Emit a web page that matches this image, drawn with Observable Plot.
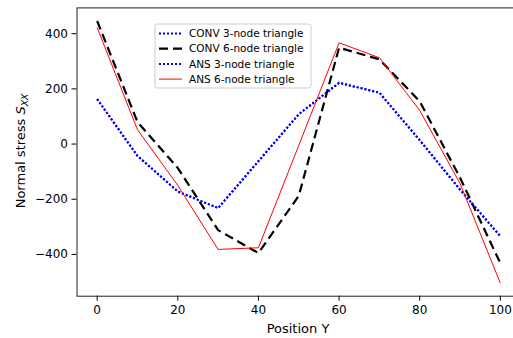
<!DOCTYPE html>
<html><head><meta charset="utf-8">
<script src="https://cdn.jsdelivr.net/npm/d3@7"></script>
<script src="https://cdn.jsdelivr.net/npm/@observablehq/plot@0.6"></script>
<style>html,body{margin:0;padding:0;overflow:hidden;background:#fff;width:513px;height:338px}
#chart svg{max-width:none !important;}</style>
</head><body><div id="chart"></div><script>
const positions = [0, 10, 20, 30, 40, 50, 60, 70, 80, 90, 100];
const conv3 = [163, -43, -172, -232, -62, 108, 222, 186, 14, -165, -334];
const conv6 = [446, 80, -87, -312, -395, -188, 349, 307, 155, -122, -432];
const ans3  = [163, -43, -172, -232, -62, 108, 222, 186, 14, -165, -334];
const ans6  = [422, 52, -150, -382, -376, -5, 367, 313, 122, -143, -504];
const seriesNames = ["CONV 3-node triangle", "CONV 6-node triangle", "ANS 3-node triangle", "ANS 6-node triangle"];
const xTicks = [0, 20, 40, 60, 80, 100];
const yTicks = [-400, -200, 0, 200, 400];

const styles = [
  {stroke: "blue", strokeWidth: 2, strokeDasharray: "2,2", strokeLinecap: "butt"},
  {stroke: "black", strokeWidth: 2.2, strokeDasharray: "9,5", strokeLinecap: "butt"},
  {stroke: "blue", strokeWidth: 2, strokeDasharray: "2,2", strokeLinecap: "butt"},
  {stroke: "red", strokeWidth: 1, strokeLinecap: "butt"}
];
const allSeries = [conv3, conv6, ans3, ans6];
const rows = allSeries.map(vals => positions.map((x, i) => ({x, y: vals[i]})));

const ext = d3.extent(allSeries.flat());
const pad = (ext[1] - ext[0]) * 0.05;
const yDomain = [ext[0] - pad, ext[1] + pad];
const fmt = d => d < 0 ? "\u2212" + Math.abs(d) : String(d);

const chart = Plot.plot({
  width: 525, height: 338,
  marginLeft: 76.5, marginRight: 5, marginTop: 7.4, marginBottom: 42.3,
  style: {fontFamily: "DejaVu Sans", background: "white", color: "black", fontSize: "12px", overflow: "visible", maxWidth: "none"},
  x: {domain: [-5, 105]},
  y: {domain: yDomain},
  marks: [
    Plot.axisX({ticks: xTicks, tickSize: 5, tickPadding: 4, label: null, fontSize: 12}),
    Plot.axisY({ticks: yTicks, tickSize: 5, tickPadding: 4, label: null, tickFormat: fmt, fontSize: 12}),
    ...rows.map((r, i) => Plot.line(r, {x: "x", y: "y", ...styles[i]})),
    Plot.frame({stroke: "#222", strokeWidth: 1})
  ]
});
chart.style.maxWidth = "none";
document.getElementById("chart").appendChild(chart);

const svg = d3.select(chart);
// axis labels
svg.append("text").attr("x", 298).attr("y", 333).attr("text-anchor", "middle")
  .attr("font-family", "DejaVu Sans").attr("font-size", 13).attr("fill", "black").text("Position Y");
const yl = svg.append("text").attr("transform", "translate(24.5,151) rotate(-90)").attr("text-anchor", "middle")
  .attr("font-family", "DejaVu Sans").attr("font-size", 13).attr("fill", "black");
yl.append("tspan").text("Normal stress ");
yl.append("tspan").attr("font-style", "italic").text("S");
yl.append("tspan").attr("font-style", "italic").attr("font-size", 9.2).attr("dy", 3).text("XX");

// legend
const lg = svg.append("g");
lg.append("rect").attr("x", 155).attr("y", 24).attr("width", 156).attr("height", 64).attr("rx", 2.5)
  .attr("fill", "white").attr("fill-opacity", 0.8).attr("stroke", "#cccccc").attr("stroke-width", 1);
seriesNames.forEach((name, i) => {
  const yy = 33.5 + i * 15.2;
  lg.append("line").attr("x1", 159).attr("x2", 182).attr("y1", yy).attr("y2", yy)
    .attr("stroke", styles[i].stroke).attr("stroke-width", styles[i].strokeWidth)
    .attr("stroke-dasharray", styles[i].strokeDasharray || null).attr("stroke-linecap", "butt");
  lg.append("text").attr("x", 189).attr("y", yy).attr("dy", "0.36em").attr("text-anchor", "start")
    .attr("font-family", "DejaVu Sans").attr("font-size", 10.5).attr("fill", "black").text(name);
});
</script></body></html>
